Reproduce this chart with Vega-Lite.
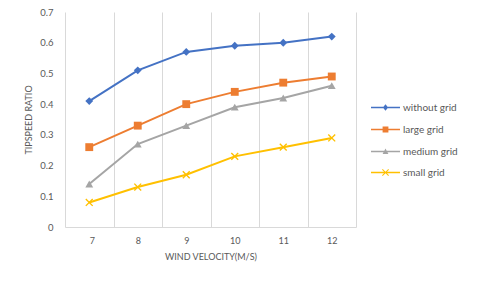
{
  "$schema": "https://vega.github.io/schema/vega-lite/v6.json",
  "autosize": "none",
  "width": 291,
  "height": 215,
  "padding": {"left": 65, "top": 12, "right": 124, "bottom": 56},
  "background": "white",
  "config": {
    "view": {"stroke": null},
    "font": "Lato",
    "axis": {"labelColor": "#595959", "titleColor": "#595959", "labelFont": "Lato", "titleFont": "Lato", "titleFontWeight": "normal"},
    "legend": {"labelColor": "#595959", "labelFont": "Lato"}
  },
  "data": {
    "values": [
      {"v": 7, "series": "without grid", "r": 0.41},
      {"v": 8, "series": "without grid", "r": 0.51},
      {"v": 9, "series": "without grid", "r": 0.57},
      {"v": 10, "series": "without grid", "r": 0.59},
      {"v": 11, "series": "without grid", "r": 0.60},
      {"v": 12, "series": "without grid", "r": 0.62},
      {"v": 7, "series": "large grid", "r": 0.26},
      {"v": 8, "series": "large grid", "r": 0.33},
      {"v": 9, "series": "large grid", "r": 0.40},
      {"v": 10, "series": "large grid", "r": 0.44},
      {"v": 11, "series": "large grid", "r": 0.47},
      {"v": 12, "series": "large grid", "r": 0.49},
      {"v": 7, "series": "medium grid", "r": 0.14},
      {"v": 8, "series": "medium grid", "r": 0.27},
      {"v": 9, "series": "medium grid", "r": 0.33},
      {"v": 10, "series": "medium grid", "r": 0.39},
      {"v": 11, "series": "medium grid", "r": 0.42},
      {"v": 12, "series": "medium grid", "r": 0.46},
      {"v": 7, "series": "small grid", "r": 0.08},
      {"v": 8, "series": "small grid", "r": 0.13},
      {"v": 9, "series": "small grid", "r": 0.17},
      {"v": 10, "series": "small grid", "r": 0.23},
      {"v": 11, "series": "small grid", "r": 0.26},
      {"v": 12, "series": "small grid", "r": 0.29}
    ]
  },
  "encoding": {
    "x": {
      "field": "v", "type": "quantitative",
      "scale": {"domain": [6.5, 12.5], "nice": false, "zero": false},
      "axis": {
        "values": [6.5, 7.5, 8.5, 9.5, 10.5, 11.5, 12.5],
        "labelExpr": "datum.value < 12 ? format(datum.value + 0.5, 'd') : ''",
        "labelOffset": 24.25,
        "labelPadding": 9,
        "labelFontSize": 9,
        "ticks": false,
        "grid": true,
        "gridColor": "#d9d9d9",
        "gridWidth": 1,
        "domainColor": "#d9d9d9",
        "title": "WIND VELOCITY(M/S)",
        "titleFontSize": 9,
        "titlePadding": 7
      }
    },
    "y": {
      "field": "r", "type": "quantitative",
      "scale": {"domain": [0, 0.7], "nice": false},
      "axis": {
        "values": [0, 0.1, 0.2, 0.3, 0.4, 0.5, 0.6, 0.7],
        "format": ".1~f",
        "grid": false,
        "ticks": false,
        "domain": false,
        "labelPadding": 12,
        "labelFontSize": 9.5,
        "title": "TIPSPEED RATIO",
        "titleFontSize": 9,
        "titlePadding": 6
      }
    }
  },
  "layer": [
    {
      "mark": {"type": "line", "strokeWidth": 2},
      "encoding": {
        "color": {"field": "series", "type": "nominal",
          "scale": {"domain": ["without grid", "large grid", "medium grid", "small grid"], "range": ["#4472C4", "#ED7D31", "#A5A5A5", "#FFC000"]},
          "legend": null}
      }
    },
    {
      "mark": {"type": "point", "filled": true, "opacity": 1},
      "encoding": {
        "color": {"field": "series", "type": "nominal",
          "scale": {"domain": ["without grid", "large grid", "medium grid", "small grid"], "range": ["#4472C4", "#ED7D31", "#A5A5A5", "#FFC000"]},
          "legend": null},
        "shape": {"field": "series", "type": "nominal",
          "scale": {"domain": ["without grid", "large grid", "medium grid", "small grid"], "range": ["diamond", "square", "triangle-up", "M-0.75,-1L1,0.75L0.75,1L-1,-0.75Z M0.75,-1L1,-0.75L-0.75,1L-1,0.75Z"]},
          "legend": null},
        "size": {"value": 62}
      }
    },
    {
      "mark": {"type": "point", "filled": true, "opacity": 0},
      "encoding": {
        "color": {"field": "series", "type": "nominal",
          "scale": {"domain": ["without grid", "large grid", "medium grid", "small grid"], "range": ["#4472C4", "#ED7D31", "#A5A5A5", "#FFC000"]},
          "legend": {"orient": "none", "legendX": 305, "legendY": 80, "title": null, "symbolSize": 841, "symbolOpacity": 1, "labelFontSize": 10, "labelOffset": 2, "rowPadding": -7.5}},
        "shape": {"field": "series", "type": "nominal",
          "scale": {"domain": ["without grid", "large grid", "medium grid", "small grid"], "range": [
            "M-1,-0.06H1V0.06H-1Z M0,-0.22L0.18,0L0,0.22L-0.18,0Z",
            "M-1,-0.06H1V0.06H-1Z M-0.2,-0.2H0.2V0.2H-0.2Z",
            "M-1,-0.06H1V0.06H-1Z M0,-0.2L0.2,0.17H-0.2Z",
            "M-1,-0.06H1V0.06H-1Z M-0.19,-0.24L0.24,0.19L0.19,0.24L-0.24,-0.19Z M0.19,-0.24L0.24,-0.19L-0.19,0.24L-0.24,0.19Z"
          ]},
          "legend": {"orient": "none", "legendX": 305, "legendY": 80, "title": null, "symbolSize": 841, "symbolOpacity": 1, "labelFontSize": 10, "labelOffset": 2, "rowPadding": -7.5}}
      }
    }
  ],
  "resolve": {"scale": {"color": "independent", "shape": "independent"}, "legend": {"color": "independent", "shape": "independent"}}
}
